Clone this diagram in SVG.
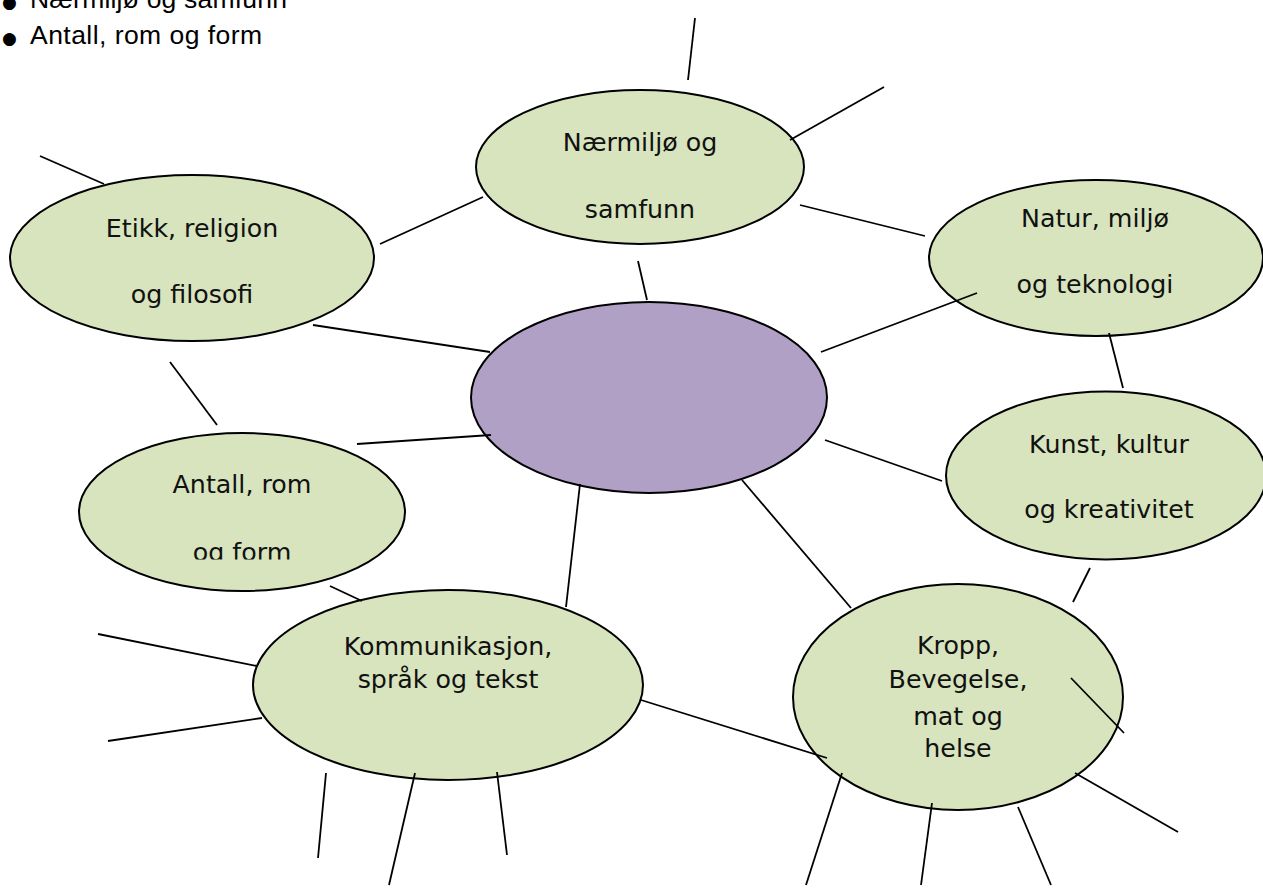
<svg xmlns="http://www.w3.org/2000/svg" width="1263" height="888" viewBox="0 0 1263 888">
<style>
.n{fill:#D7E4BD;stroke:#000;stroke-width:2}
.c{fill:#B1A0C6;stroke:#000;stroke-width:2}
.t{font-family:"DejaVu Sans",sans-serif;font-size:25.3px;fill:#111;text-anchor:middle}
.b{font-family:"Liberation Sans",Arial,sans-serif;font-size:26.5px;fill:#000}
.dot{font-family:"DejaVu Sans",sans-serif;font-size:17px}
#connectors line{stroke:#000;stroke-width:1.8}
</style>
<defs>
<clipPath id="clipA"><rect x="0" y="0" width="1263" height="559.5"/></clipPath>
</defs>
<rect width="1263" height="888" fill="#fff"/>
<g id="bullets">
<text class="b" x="2" y="8"><tspan class="dot">●</tspan><tspan x="30" textLength="257" lengthAdjust="spacing">Nærmiljø og samfunn</tspan></text>
<text class="b" x="2" y="44"><tspan class="dot">●</tspan><tspan x="30" textLength="232" lengthAdjust="spacing">Antall, rom og form</tspan></text>
</g>
<g id="node-naermiljo">
<ellipse class="n" cx="640" cy="167" rx="164" ry="77"/>
<text class="t" x="640" y="151">Nærmiljø og</text>
<text class="t" x="640" y="218">samfunn</text>
</g>
<g id="node-etikk">
<ellipse class="n" cx="192" cy="258" rx="182" ry="83"/>
<text class="t" x="192" y="237">Etikk, religion</text>
<text class="t" x="192" y="303">og filosofi</text>
</g>
<g id="node-natur">
<ellipse class="n" cx="1096" cy="258" rx="167" ry="78"/>
<text class="t" x="1095" y="227">Natur, miljø</text>
<text class="t" x="1095" y="293">og teknologi</text>
</g>
<g id="node-center">
<ellipse class="c" cx="649" cy="397.5" rx="178" ry="95.5"/>
</g>
<g id="node-kunst">
<ellipse class="n" cx="1106" cy="475.5" rx="160" ry="84"/>
<text class="t" x="1109" y="453">Kunst, kultur</text>
<text class="t" x="1109" y="518">og kreativitet</text>
</g>
<g id="node-antall">
<ellipse class="n" cx="242" cy="512" rx="163" ry="79"/>
<text class="t" x="242" y="493">Antall, rom</text>
<text class="t" x="242" y="561" clip-path="url(#clipA)">og form</text>
</g>
<g id="node-kommunikasjon">
<ellipse class="n" cx="448" cy="685" rx="195" ry="95"/>
<text class="t" x="448" y="655">Kommunikasjon,</text>
<text class="t" x="448" y="688">språk og tekst</text>
</g>
<g id="node-kropp">
<ellipse class="n" cx="958" cy="697" rx="165" ry="113"/>
<text class="t" x="958" y="654">Kropp,</text>
<text class="t" x="958" y="688">Bevegelse,</text>
<text class="t" x="958" y="725">mat og</text>
<text class="t" x="958" y="757">helse</text>
</g>
<g id="connectors">
<line x1="688" y1="80" x2="695" y2="18"/>
<line x1="790" y1="140" x2="884" y2="87"/>
<line x1="380" y1="244" x2="483" y2="197"/>
<line x1="40" y1="156" x2="104" y2="184"/>
<line x1="800" y1="205" x2="925" y2="236"/>
<line x1="647" y1="300" x2="638" y2="261"/>
<line x1="313" y1="325" x2="490" y2="352"/>
<line x1="821" y1="352" x2="977" y2="293"/>
<line x1="1123" y1="388" x2="1109" y2="333"/>
<line x1="170" y1="362" x2="217" y2="425"/>
<line x1="357" y1="444" x2="491" y2="435"/>
<line x1="825" y1="440" x2="942" y2="481"/>
<line x1="330" y1="586" x2="362" y2="601"/>
<line x1="566" y1="607" x2="580" y2="484"/>
<line x1="742" y1="480" x2="851" y2="608"/>
<line x1="1073" y1="602" x2="1090" y2="568"/>
<line x1="98" y1="634" x2="257" y2="666"/>
<line x1="108" y1="741" x2="262" y2="718"/>
<line x1="326" y1="773" x2="318" y2="858"/>
<line x1="415" y1="773" x2="389" y2="885"/>
<line x1="497" y1="772" x2="507" y2="855"/>
<line x1="641" y1="700" x2="827" y2="758"/>
<line x1="1071" y1="678" x2="1124" y2="733"/>
<line x1="842" y1="773" x2="806" y2="885"/>
<line x1="932" y1="803" x2="921" y2="885"/>
<line x1="1018" y1="807" x2="1051" y2="885"/>
<line x1="1075" y1="773" x2="1178" y2="832"/>
</g>
</svg>
